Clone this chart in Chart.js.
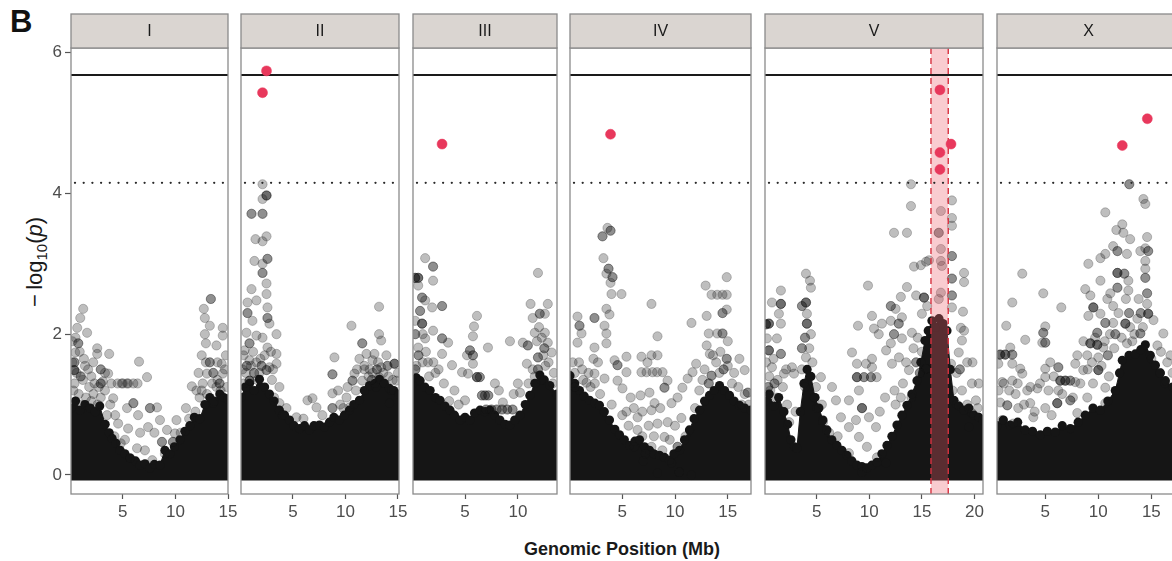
<!DOCTYPE html>
<html>
<head>
<meta charset="utf-8">
<script src="https://cdn.jsdelivr.net/npm/chart.js@4.4.1/dist/chart.umd.min.js"></script>
<style>
  body { margin: 0; background: #fff; width: 1172px; height: 561px; overflow: hidden; position: relative;
         font-family: "Liberation Sans", Arial, Helvetica, sans-serif; }
  canvas { position: absolute; top: 0; }
  #tag { position: absolute; left: 10px; top: 4px; font-size: 31px; font-weight: bold; color: #111; }
  #ytitle { position: absolute; left: 36px; top: 262px; transform: translate(-50%, -50%) rotate(-90deg);
            font-size: 22px; color: #1a1a1a; white-space: nowrap; }
  #ytitle sub { font-size: 15px; }
  #xtitle { position: absolute; left: 622px; top: 549px; transform: translate(-50%, -50%);
            font-size: 18px; font-weight: bold; color: #1a1a1a; white-space: nowrap; }
</style>
</head>
<body>
<div id="tag">B</div>
<div id="ytitle">&minus;&thinsp;log<sub>10</sub>(<i>p</i>)</div>
<div id="xtitle">Genomic Position (Mb)</div>
<script>
// thresholds (-log10 p)
const bonferroni = 5.68;
const eigenThreshold = 4.15;
const xTickValues = [5, 10, 15, 20];
const yTickValues = [0, 2, 4, 6];
const qtlV = [15.86, 17.5];

// significant markers
const peaksI = [];
const peaksII = [[2.48, 5.74], [2.1, 5.43]];
const peaksIII = [[2.83, 4.7]];
const peaksIV = [[3.89, 4.84]];
const peaksV = [[16.71, 5.47], [17.76, 4.7], [16.71, 4.58], [16.71, 4.34]];
const peaksX = [[14.62, 5.06], [12.26, 4.68]];

// upper edge of the saturated marker cloud [Mb, -log10 p]
const denseI = [[0.07, 0.95], [0.5, 1.05], [0.95, 0.92], [1.4, 1.0], [1.9, 0.95], [2.37, 0.9], [2.8, 0.98],
  [3.32, 0.72], [3.7, 0.6], [3.98, 0.52], [4.35, 0.45], [4.74, 0.35], [5.2, 0.3], [5.69, 0.24], [6.2, 0.2],
  [6.64, 0.14], [7.1, 0.16], [7.58, 0.1], [8.0, 0.15], [8.53, 0.14], [9.0, 0.35], [9.48, 0.3], [9.9, 0.4],
  [10.43, 0.5], [10.9, 0.62], [11.37, 0.7], [11.8, 0.82], [12.32, 0.8], [12.8, 1.0], [13.27, 1.1], [13.7, 1.05],
  [14.22, 1.15], [14.6, 1.1], [15.0, 1.08]];
const denseII = [[0.05, 1.1], [0.45, 1.25], [0.86, 1.3], [1.3, 1.2], [1.81, 1.36], [2.3, 1.25], [2.76, 1.15],
  [3.2, 1.05], [3.71, 0.92], [4.2, 0.85], [4.67, 0.78], [5.1, 0.7], [5.62, 0.66], [6.1, 0.7], [6.57, 0.64],
  [7.0, 0.7], [7.52, 0.71], [8.0, 0.68], [8.48, 0.75], [8.9, 0.82], [9.43, 0.78], [9.9, 0.85], [10.38, 0.92],
  [10.8, 1.0], [11.33, 1.06], [11.8, 1.2], [12.29, 1.27], [12.8, 1.3], [13.24, 1.36], [13.7, 1.3], [14.19, 1.23],
  [14.6, 1.2], [15.1, 1.15]];
const denseIII = [[0.08, 1.3], [0.4, 1.38], [0.75, 1.34], [1.2, 1.25], [1.7, 1.2], [2.2, 1.1], [2.64, 1.06],
  [3.1, 0.98], [3.58, 0.92], [4.0, 0.85], [4.53, 0.78], [5.0, 0.82], [5.47, 0.78], [5.9, 0.88], [6.42, 0.92],
  [6.9, 0.9], [7.36, 0.92], [7.8, 0.85], [8.3, 0.78], [8.8, 0.72], [9.25, 0.71], [9.7, 0.78], [10.19, 0.85],
  [10.7, 1.0], [11.13, 1.13], [11.6, 1.3], [12.08, 1.42], [12.5, 1.35], [13.02, 1.27], [13.7, 1.15]];
const denseIV = [[0.05, 1.41], [0.5, 1.3], [0.95, 1.2], [1.4, 1.12], [1.9, 1.06], [2.4, 1.02], [2.84, 0.99],
  [3.3, 0.9], [3.79, 0.78], [4.3, 0.65], [4.74, 0.57], [5.2, 0.5], [5.69, 0.42], [6.2, 0.48], [6.64, 0.5],
  [7.1, 0.4], [7.58, 0.35], [8.0, 0.3], [8.53, 0.28], [9.0, 0.25], [9.48, 0.21], [9.9, 0.3], [10.43, 0.35],
  [10.9, 0.5], [11.37, 0.64], [11.8, 0.8], [12.32, 0.92], [12.8, 1.05], [13.27, 1.13], [13.7, 1.2], [14.22, 1.27],
  [14.7, 1.2], [15.17, 1.13], [15.6, 1.05], [16.11, 0.99], [16.6, 0.95], [17.2, 0.92]];
const denseV = [[0.1, 1.05], [0.5, 1.15], [0.95, 0.98], [1.4, 1.1], [1.9, 0.9], [2.25, 0.72], [2.56, 0.5],
  [2.9, 0.4], [3.13, 0.38], [3.45, 0.9], [3.8, 1.3], [4.1, 1.5], [4.46, 1.4], [4.85, 1.1], [5.22, 0.95],
  [5.6, 0.78], [5.98, 0.64], [6.45, 0.5], [6.93, 0.42], [7.4, 0.35], [7.88, 0.28], [8.35, 0.2], [8.83, 0.14],
  [9.3, 0.12], [9.78, 0.1], [10.25, 0.14], [10.73, 0.18], [11.2, 0.3], [11.68, 0.42], [12.15, 0.55], [12.63, 0.71],
  [13.1, 0.85], [13.58, 0.99], [14.05, 1.15], [14.53, 1.34], [14.9, 1.6], [15.29, 1.91], [15.6, 2.05],
  [15.95, 2.19], [16.3, 2.1], [16.62, 2.22], [17.0, 2.15], [17.38, 2.05], [17.7, 1.5], [18.04, 1.06], [18.5, 0.98],
  [18.99, 0.92], [19.45, 0.95], [19.94, 0.85], [20.4, 0.82], [20.8, 0.78]];
const denseX = [[0.45, 0.7], [1.05, 0.78], [1.7, 0.71], [2.4, 0.75], [3.11, 0.64], [3.8, 0.62], [4.53, 0.57],
  [5.2, 0.62], [5.94, 0.61], [6.6, 0.7], [7.36, 0.66], [8.1, 0.75], [8.77, 0.85], [9.5, 0.95], [10.19, 0.92],
  [10.9, 1.05], [11.6, 1.2], [12.0, 1.45], [12.26, 1.63], [12.9, 1.7], [13.49, 1.72], [14.0, 1.78], [14.43, 1.85],
  [14.9, 1.7], [15.38, 1.56], [15.85, 1.45], [16.32, 1.34], [17.0, 1.25], [17.7, 1.2]];

// individual markers above the cloud (repeats = overlapping markers)
const snpsI = [[1.23, 2.36], [0.95, 2.23], [0.66, 2.09], [0.76, 1.87], [0.76, 1.87], [0.47, 1.74], [0.38, 1.49],
  [0.38, 1.49], [0.38, 1.49], [1.6, 2.02], [2.56, 1.8], [2.56, 1.72], [3.7, 1.72], [2.18, 1.6], [3.6, 1.44],
  [4.5, 1.3], [4.9, 1.3], [5.0, 1.3], [5.4, 1.3], [5.5, 1.3], [6.0, 1.3], [6.4, 1.3], [6.54, 1.61], [7.3, 1.39],
  [4.08, 1.09], [5.4, 0.95], [6.0, 1.02], [6.0, 1.02], [6.45, 0.85], [7.58, 0.95], [7.58, 0.95], [8.25, 0.96],
  [4.27, 0.85], [4.55, 0.73], [5.5, 0.66], [6.64, 0.6], [7.4, 0.68], [8.53, 0.78], [9.2, 0.64], [9.95, 0.59],
  [9.76, 0.47], [9.76, 0.47], [8.72, 0.47], [8.72, 0.47], [10.1, 0.78], [11.3, 0.8], [11.56, 1.26], [6.35, 0.38],
  [7.1, 0.35], [5.7, 0.24], [7.8, 0.21], [13.37, 2.5], [13.37, 2.5], [12.7, 2.36], [12.8, 2.23], [13.27, 2.12],
  [14.5, 2.09], [12.8, 2.0], [14.5, 1.98], [13.9, 1.84], [12.9, 1.87], [12.5, 1.7], [13.27, 1.6], [13.27, 1.6],
  [14.4, 1.58], [14.5, 1.44], [13.0, 1.44], [12.6, 1.3], [13.9, 1.25], [14.9, 1.25], [12.3, 1.1], [13.6, 1.02],
  [0.3, 1.2], [0.6, 1.45], [1.2, 1.35], [1.8, 1.25], [2.2, 1.15], [2.9, 1.5], [2.9, 1.5], [3.3, 1.2], [1.0, 1.0],
  [2.6, 1.0], [3.1, 1.33], [0.2, 1.6], [1.4, 1.55], [2.0, 1.4], [3.8, 1.0], [3.5, 0.85], [4.2, 0.55], [4.8, 0.45],
  [5.2, 0.5], [8.0, 0.6], [9.0, 0.3], [10.5, 0.6], [11.0, 0.95], [12.0, 1.2], [11.9, 0.9], [14.0, 1.35], [14.7, 1.5],
  [0.2, 1.9], [0.5, 1.95], [0.9, 1.75], [1.3, 1.65], [1.7, 1.5], [2.3, 1.3], [2.7, 1.25], [0.4, 1.3], [0.8, 1.15],
  [1.5, 1.1], [2.0, 1.05], [2.9, 1.1], [3.3, 1.45], [3.9, 1.3], [0.4, 1.6], [0.4, 1.6], [1.0, 1.4], [1.0, 1.4],
  [2.9, 1.3], [2.9, 1.3], [12.2, 1.45], [12.5, 1.2], [13.0, 1.15], [13.5, 1.3], [14.0, 1.6], [14.3, 1.2],
  [14.8, 1.7], [12.9, 1.6], [13.6, 1.45], [13.6, 1.45], [14.2, 1.3], [14.2, 1.3]];
const snpsII = [[2.1, 4.13], [2.48, 3.97], [2.48, 3.97], [2.48, 3.97], [2.1, 3.92], [1.05, 3.71], [1.05, 3.71],
  [2.1, 3.71], [2.1, 3.71], [1.43, 3.35], [2.48, 3.39], [2.1, 3.32], [1.33, 3.04], [2.57, 3.07], [2.57, 3.07],
  [2.1, 3.0], [2.1, 2.87], [2.1, 2.87], [2.48, 2.72], [2.48, 2.57], [1.05, 2.64], [1.52, 2.48], [0.67, 2.45],
  [2.57, 2.38], [0.67, 2.3], [0.67, 2.3], [1.14, 2.19], [2.57, 2.23], [2.57, 2.23], [2.76, 2.15], [0.57, 2.02],
  [1.52, 1.98], [3.43, 2.0], [2.1, 1.95], [0.86, 1.87], [0.86, 1.87], [2.57, 1.81], [0.38, 1.77], [3.43, 1.72],
  [0.86, 1.63], [2.76, 1.53], [3.43, 1.58], [0.86, 1.34], [0.86, 1.34], [0.86, 1.34], [2.48, 1.49], [2.48, 1.49],
  [3.71, 1.25], [3.71, 1.02], [4.38, 0.95], [13.2, 2.39], [10.57, 2.12], [13.2, 2.0], [13.4, 1.91], [11.6, 1.87],
  [11.6, 1.87], [12.76, 1.72], [12.0, 1.72], [13.9, 1.7], [14.67, 1.58], [14.67, 1.58], [14.67, 1.58], [8.95, 1.67],
  [12.57, 1.63], [11.33, 1.65], [8.76, 1.43], [8.76, 1.43], [10.86, 1.44], [10.67, 1.34], [10.67, 1.34], [11.6, 1.34],
  [13.4, 1.53], [13.2, 1.39], [14.86, 1.34], [8.76, 1.16], [8.76, 0.95], [8.76, 0.95], [6.38, 1.06], [6.86, 1.09],
  [7.24, 0.96], [10.1, 1.1], [10.38, 0.96], [14.2, 1.02], [5.33, 0.82], [0.2, 1.5], [1.5, 1.6], [3.0, 1.35],
  [3.2, 1.1], [1.8, 1.45], [0.3, 1.3], [4.0, 0.85], [12.3, 1.5], [13.7, 1.3], [11.0, 1.2], [9.5, 1.0], [7.8, 0.85],
  [6.0, 0.8], [14.4, 1.2], [12.9, 1.25], [0.3, 1.7], [0.5, 1.45], [1.0, 1.55], [1.2, 1.75], [1.6, 1.35], [1.9, 1.65],
  [2.3, 1.7], [2.9, 1.75], [3.1, 1.5], [0.6, 1.55], [0.6, 1.55], [1.3, 1.45], [1.3, 1.45], [2.0, 1.55], [2.0, 1.55],
  [9.3, 1.2], [9.8, 0.95], [10.2, 1.25], [11.1, 1.5], [11.8, 1.55], [12.2, 1.4], [12.6, 1.45], [13.1, 1.6],
  [13.6, 1.45], [14.1, 1.4], [14.5, 1.35], [15.0, 1.45], [11.8, 1.5], [12.5, 1.35], [12.5, 1.35], [13.0, 1.5],
  [13.0, 1.5], [14.0, 1.55], [14.0, 1.55]];
const snpsIII = [[1.23, 3.08], [1.98, 2.96], [1.98, 2.96], [1.98, 2.76], [0.57, 2.8], [0.57, 2.8], [0.57, 2.8],
  [0.28, 2.8], [0.28, 2.8], [0.28, 2.8], [0.57, 2.69], [0.94, 2.52], [0.94, 2.52], [1.23, 2.48], [1.89, 2.38],
  [2.83, 2.4], [2.83, 2.4], [0.75, 2.33], [0.75, 2.33], [0.94, 2.15], [0.94, 2.15], [0.94, 2.15], [0.28, 2.19],
  [1.98, 2.05], [2.83, 1.94], [2.83, 1.94], [3.4, 1.88], [1.23, 1.94], [0.57, 1.81], [2.83, 1.72], [3.77, 1.56],
  [4.72, 1.46], [6.13, 2.26], [5.85, 2.11], [5.75, 1.97], [5.47, 1.77], [5.47, 1.77], [5.75, 1.7], [5.75, 1.7],
  [5.19, 1.7], [5.75, 1.58], [6.13, 1.39], [6.13, 1.39], [6.13, 1.39], [6.4, 1.39], [6.4, 1.39], [5.28, 1.44],
  [7.17, 1.81], [9.25, 1.9], [6.89, 1.13], [6.89, 1.13], [6.6, 1.13], [6.6, 1.13], [7.2, 1.13], [7.2, 1.13],
  [5.0, 1.06], [7.83, 1.3], [8.2, 1.2], [8.58, 1.03], [10.2, 1.17], [10.85, 1.58], [10.94, 1.84], [10.94, 1.84],
  [11.2, 2.43], [11.9, 2.87], [11.4, 2.23], [12.07, 2.29], [12.07, 2.29], [12.83, 2.43], [12.55, 2.29], [11.6, 2.02],
  [12.55, 2.02], [12.26, 1.95], [12.83, 1.88], [10.47, 1.88], [13.2, 1.74], [11.9, 1.67], [11.9, 1.67], [7.0, 0.93],
  [7.0, 0.93], [7.5, 0.93], [7.5, 0.93], [8.0, 0.93], [8.0, 0.93], [8.5, 0.93], [8.5, 0.93], [9.0, 0.93], [9.0, 0.93],
  [9.5, 0.93], [9.5, 0.93], [1.5, 1.6], [2.2, 1.45], [3.0, 1.3], [4.0, 1.2], [4.4, 1.0], [0.4, 1.55], [11.6, 1.4],
  [12.6, 1.55], [13.4, 1.45], [10.0, 1.3], [9.6, 1.15], [3.5, 1.05], [12.2, 1.35], [0.3, 1.5], [0.3, 1.5],
  [0.6, 1.7], [0.6, 1.7], [1.0, 1.6], [1.3, 1.75], [1.6, 1.4], [2.0, 1.6], [2.5, 1.5], [0.3, 2.0], [0.3, 2.0],
  [1.0, 2.0], [11.0, 1.3], [11.4, 1.5], [11.8, 1.9], [12.0, 2.1], [12.4, 1.7], [12.9, 1.6], [13.3, 1.3],
  [11.9, 1.5], [11.9, 1.5], [12.5, 1.8], [12.5, 1.8]];
const snpsIV = [[3.6, 3.51], [3.89, 3.47], [3.89, 3.47], [3.13, 3.39], [3.13, 3.39], [3.22, 3.08], [3.7, 2.93],
  [3.7, 2.93], [3.5, 2.86], [4.08, 2.81], [4.08, 2.81], [3.89, 2.73], [4.93, 2.57], [3.98, 2.57], [3.5, 2.36],
  [3.79, 2.28], [0.76, 2.25], [2.37, 2.23], [2.37, 2.23], [0.95, 2.12], [0.95, 2.12], [3.32, 2.12], [1.14, 2.01],
  [3.5, 2.01], [7.77, 2.43], [8.34, 1.97], [2.37, 1.81], [3.5, 1.87], [0.76, 1.88], [2.27, 1.65], [4.27, 1.63],
  [5.4, 1.68], [6.82, 1.68], [7.77, 1.7], [8.34, 1.7], [7.39, 1.6], [6.82, 1.46], [7.3, 1.46], [7.87, 1.46],
  [8.3, 1.46], [8.82, 1.46], [4.55, 1.56], [4.55, 1.56], [5.4, 1.46], [2.37, 1.44], [1.61, 1.31], [3.32, 1.37],
  [4.55, 1.34], [5.02, 1.23], [7.58, 1.17], [9.29, 1.34], [9.0, 1.24], [9.0, 1.24], [6.73, 1.13], [8.06, 1.02],
  [7.77, 0.92], [11.56, 2.16], [12.9, 2.69], [14.9, 2.81], [13.46, 2.56], [14.0, 2.56], [14.5, 2.56], [14.9, 2.56],
  [13.0, 2.26], [14.9, 2.35], [14.5, 2.3], [14.5, 2.3], [13.2, 2.01], [14.5, 2.01], [14.5, 2.01], [14.0, 2.01],
  [13.0, 1.84], [13.3, 1.72], [14.9, 1.65], [14.9, 1.65], [16.1, 1.65], [16.6, 1.49], [12.0, 1.58], [11.66, 1.46],
  [13.46, 1.41], [13.46, 1.41], [11.2, 1.37], [10.7, 1.24], [10.24, 1.1], [9.67, 1.02], [16.9, 1.17], [16.9, 1.17],
  [10.6, 0.81], [10.24, 0.4], [10.24, 0.4], [6.45, 0.82], [6.45, 0.64], [8.34, 0.73], [9.0, 0.54], [6.16, 0.4],
  [7.77, 0.4], [9.67, 0.17], [10.4, 0.04], [10.4, 0.04], [8.34, 0.03], [11.56, 0.0], [0.3, 1.6], [1.2, 1.5],
  [2.0, 1.25], [2.9, 1.15], [4.0, 1.0], [5.0, 0.85], [5.6, 0.7], [6.9, 0.55], [7.2, 0.3], [8.8, 0.35], [9.3, 0.75],
  [11.0, 0.55], [11.9, 0.95], [12.6, 1.35], [14.2, 1.45], [15.4, 1.3], [16.3, 1.0], [13.9, 1.6], [15.0, 1.9],
  [0.2, 1.3], [0.5, 1.45], [0.9, 1.6], [1.3, 1.35], [1.8, 1.45], [2.4, 1.3], [2.7, 1.6], [0.5, 1.25], [0.5, 1.25],
  [5.8, 1.1], [6.1, 0.95], [6.9, 0.9], [7.5, 0.7], [8.0, 0.55], [8.6, 0.95], [9.5, 0.5], [5.4, 0.9], [7.0, 0.2],
  [10.0, 0.7], [12.3, 1.2], [12.8, 1.5], [13.6, 1.7], [14.3, 1.75], [15.0, 1.55], [15.6, 1.45], [16.0, 1.25],
  [16.6, 1.15], [17.0, 1.0], [13.2, 1.3], [13.2, 1.3], [14.6, 1.5], [14.6, 1.5]];
const snpsV = [[13.96, 4.13], [13.96, 3.82], [12.35, 3.44], [13.58, 3.44], [17.85, 3.9], [17.85, 3.65], [17.85, 3.54],
  [16.8, 3.75], [16.6, 3.44], [16.6, 3.44], [16.8, 3.21], [16.8, 3.04], [16.9, 2.97], [17.85, 3.11], [17.85, 3.11],
  [14.25, 2.96], [14.9, 2.98], [15.4, 3.03], [15.67, 3.05], [19.0, 2.87], [19.0, 2.74], [17.85, 2.79], [17.85, 2.79],
  [17.85, 2.55], [17.85, 2.55], [17.85, 2.38], [16.8, 2.59], [16.6, 2.5], [15.2, 2.52], [15.2, 2.52], [15.2, 2.52],
  [14.45, 2.55], [13.58, 2.67], [13.0, 2.53], [12.05, 2.4], [12.05, 2.4], [12.5, 2.36], [15.0, 2.29], [18.9, 2.32],
  [12.05, 2.19], [13.1, 2.24], [12.8, 2.15], [12.8, 2.15], [14.05, 2.02], [12.35, 2.0], [12.35, 2.0], [13.1, 1.94],
  [12.05, 1.87], [11.2, 2.15], [10.26, 2.26], [10.45, 2.08], [10.9, 2.0], [9.88, 2.69], [8.93, 2.12], [8.36, 1.74],
  [8.83, 1.58], [9.69, 1.58], [10.26, 1.65], [10.26, 1.53], [8.83, 1.39], [8.83, 1.39], [8.83, 1.39], [9.5, 1.39],
  [9.5, 1.39], [10.16, 1.39], [10.16, 1.39], [10.7, 1.39], [11.6, 1.77], [12.16, 1.58], [12.82, 1.67], [14.45, 1.6],
  [14.45, 1.6], [13.77, 1.49], [15.4, 1.51], [15.4, 1.51], [15.4, 1.51], [18.5, 1.74], [17.76, 1.58], [18.8, 1.91],
  [19.0, 2.05], [18.7, 2.09], [3.99, 2.86], [4.37, 2.76], [4.46, 2.66], [3.99, 2.45], [3.99, 2.45], [3.99, 2.45],
  [3.61, 2.4], [3.61, 2.4], [4.08, 2.29], [4.08, 2.15], [4.08, 2.15], [4.08, 2.15], [4.46, 2.0], [3.61, 1.8],
  [3.61, 1.8], [3.99, 1.67], [1.61, 2.62], [0.76, 2.45], [1.61, 2.43], [1.61, 2.43], [1.61, 2.43], [1.42, 2.29],
  [0.47, 2.15], [0.47, 2.15], [0.47, 2.15], [0.19, 2.14], [0.19, 2.14], [0.19, 2.14], [1.61, 2.15], [0.28, 1.94],
  [1.23, 1.94], [0.47, 1.77], [0.47, 1.77], [0.47, 1.77], [1.61, 1.72], [1.61, 1.72], [0.76, 1.53], [2.66, 1.53],
  [2.85, 1.44], [1.9, 1.44], [5.41, 1.39], [4.94, 1.25], [6.46, 1.25], [6.84, 1.06], [8.07, 1.06], [9.02, 1.2],
  [9.31, 0.95], [9.31, 0.95], [9.31, 0.95], [9.97, 0.82], [8.74, 0.78], [7.31, 0.82], [8.07, 0.68], [10.64, 0.68],
  [9.02, 0.54], [9.78, 0.4], [10.73, 0.25], [11.59, 0.17], [9.31, 0.04], [8.07, 0.31], [19.75, 1.3], [20.13, 1.06],
  [19.75, 0.88], [19.47, 0.68], [0.6, 1.2], [1.2, 1.1], [2.2, 1.0], [2.4, 0.75], [3.0, 0.9], [4.6, 1.6], [5.0, 0.95],
  [5.6, 0.75], [6.2, 0.6], [7.0, 0.55], [11.0, 0.9], [11.5, 1.1], [12.4, 1.2], [13.2, 1.3], [14.0, 1.1], [17.9, 1.2],
  [18.3, 1.45], [19.3, 1.6], [20.4, 1.3], [0.2, 1.6], [0.5, 1.4], [0.9, 1.65], [1.3, 1.35], [1.8, 1.25], [2.1, 1.5],
  [0.4, 1.25], [0.4, 1.25], [1.0, 1.3], [1.0, 1.3], [3.6, 1.5], [3.9, 1.25], [4.3, 1.8], [4.8, 1.1], [5.5, 1.0],
  [3.9, 1.95], [3.9, 1.95], [12.5, 1.0], [13.0, 1.1], [13.5, 1.6], [14.2, 1.8], [14.6, 1.95], [15.0, 1.75],
  [15.5, 2.4], [14.8, 1.45], [14.8, 1.45], [18.3, 1.0], [18.8, 1.2], [19.3, 1.0], [19.8, 1.6], [20.3, 0.95],
  [18.6, 1.5], [18.6, 1.5]];
const snpsX = [[12.92, 4.13], [12.92, 4.13], [14.25, 3.92], [14.43, 3.85], [10.66, 3.73], [12.26, 3.56], [11.7, 3.48],
  [12.36, 3.44], [13.0, 3.35], [11.4, 3.25], [11.8, 3.18], [11.8, 3.18], [14.43, 3.22], [14.6, 3.38], [14.7, 3.18],
  [14.7, 3.18], [13.96, 3.18], [12.7, 3.14], [10.66, 3.14], [10.2, 3.08], [9.06, 3.0], [14.43, 3.04], [14.43, 2.93],
  [14.43, 2.8], [14.43, 2.8], [11.8, 2.87], [11.8, 2.87], [11.8, 2.87], [12.45, 2.86], [12.45, 2.86], [10.2, 2.76],
  [11.8, 2.66], [11.8, 2.66], [12.83, 2.76], [12.83, 2.62], [11.13, 2.58], [8.77, 2.64], [9.25, 2.55], [10.85, 2.5],
  [14.6, 2.58], [14.6, 2.58], [14.6, 2.43], [14.7, 2.29], [14.7, 2.29], [14.7, 2.29], [9.53, 2.38], [9.53, 2.38],
  [9.53, 2.38], [10.2, 2.29], [9.06, 2.26], [10.66, 2.16], [10.66, 2.16], [11.4, 2.16], [12.55, 2.15], [12.55, 2.15],
  [12.55, 2.15], [13.68, 2.22], [13.96, 2.01], [13.96, 2.01], [9.9, 2.02], [9.9, 2.02], [9.25, 1.87], [9.25, 1.87],
  [9.25, 1.87], [9.9, 1.85], [9.9, 1.85], [9.9, 1.85], [10.47, 1.81], [12.7, 1.87], [16.13, 2.01], [15.57, 1.84],
  [10.0, 1.67], [10.0, 1.49], [10.0, 1.49], [10.0, 1.49], [8.96, 1.7], [8.58, 1.49], [8.02, 1.7], [7.83, 1.58],
  [2.83, 2.86], [1.89, 2.45], [4.81, 2.58], [6.51, 2.38], [1.32, 2.12], [3.11, 1.92], [5.0, 2.11], [4.81, 2.02],
  [4.81, 2.02], [5.0, 1.88], [5.0, 1.88], [4.72, 1.88], [1.7, 1.81], [0.75, 1.71], [0.75, 1.71], [0.75, 1.71],
  [1.23, 1.71], [1.23, 1.71], [1.23, 1.71], [1.89, 1.71], [1.89, 1.71], [0.57, 1.58], [1.89, 1.58], [2.64, 1.51],
  [2.83, 1.44], [0.94, 1.32], [1.89, 1.34], [5.47, 1.6], [5.0, 1.51], [6.23, 1.53], [6.23, 1.53], [5.0, 1.39],
  [6.42, 1.34], [6.42, 1.34], [6.42, 1.34], [6.89, 1.34], [6.89, 1.34], [6.89, 1.34], [7.36, 1.34], [7.36, 1.34],
  [3.3, 1.2], [4.25, 1.23], [6.23, 1.2], [7.83, 1.32], [0.75, 1.03], [1.42, 0.99], [1.42, 0.99], [2.45, 0.95],
  [3.58, 1.02], [5.0, 0.95], [6.13, 1.02], [6.13, 1.02], [6.13, 1.02], [7.36, 1.06], [7.36, 1.06], [8.96, 1.1],
  [0.94, 0.78], [1.98, 0.73], [3.87, 0.82], [8.02, 0.88], [10.66, 1.24], [10.66, 1.02], [16.5, 1.6], [17.0, 1.45],
  [15.9, 1.75], [13.2, 1.9], [11.5, 1.8], [2.2, 1.15], [4.0, 0.9], [5.6, 0.85], [9.5, 1.3], [11.0, 1.4],
  [0.6, 1.2], [1.1, 1.3], [1.6, 1.2], [2.4, 1.3], [3.0, 1.0], [3.6, 1.25], [4.5, 1.3], [5.3, 1.2], [5.8, 1.4],
  [6.6, 1.15], [7.6, 1.1], [8.3, 1.3], [8.6, 1.9], [9.0, 1.5], [9.4, 1.6], [9.7, 1.95], [10.3, 1.55], [10.6, 1.9],
  [11.1, 2.0], [11.4, 2.4], [11.9, 2.3], [12.2, 1.95], [12.6, 2.5], [13.0, 2.1], [13.4, 2.0], [13.8, 2.5],
  [14.2, 2.1], [15.0, 1.65], [15.2, 2.2], [15.8, 1.45], [16.3, 1.3], [16.8, 1.7], [11.6, 2.0], [11.6, 2.0],
  [12.9, 2.3], [12.9, 2.3], [14.0, 2.3], [14.0, 2.3], [10.9, 1.7], [10.9, 1.7]];

const FONT = '"Liberation Sans", Arial, Helvetica, sans-serif';
const PANEL_TOP = 48, PANEL_BOTTOM = 494, STRIP_TOP = 14, H = 561, PAD = 14;

const panels = [
  { name: 'I', left: 71, right: 228, min: 0.07, max: 15.0, snps: snpsI, dense: denseI, peaks: peaksI },
  { name: 'II', left: 241, right: 399, min: 0.05, max: 15.1, snps: snpsII, dense: denseII, peaks: peaksII },
  { name: 'III', left: 413, right: 557, min: 0.08, max: 13.7, snps: snpsIII, dense: denseIII, peaks: peaksIII },
  { name: 'IV', left: 570, right: 751, min: 0.05, max: 17.2, snps: snpsIV, dense: denseIV, peaks: peaksIV },
  { name: 'V', left: 765, right: 983, min: 0.1, max: 20.8, snps: snpsV, dense: denseV, peaks: peaksV, band: qtlV },
  { name: 'X', left: 997, right: 1180, min: 0.45, max: 17.7, snps: snpsX, dense: denseX, peaks: peaksX }
];

const pts = arr => arr.map(([x, y]) => ({ x, y }));

const facetPlugin = {
  id: 'facet',
  afterDatasetDraw(chart, args, opts) {
    if (args.index !== 1) return;
    const { ctx, chartArea: a, scales: { x, y } } = chart;
    ctx.save();
    if (opts.band) {
      const x0 = x.getPixelForValue(opts.band[0]), x1 = x.getPixelForValue(opts.band[1]);
      ctx.fillStyle = 'rgba(236, 95, 110, 0.32)';
      ctx.fillRect(x0, a.top, x1 - x0, a.bottom - a.top);
      ctx.strokeStyle = '#d8313f';
      ctx.lineWidth = 1.4;
      ctx.setLineDash([6, 4]);
      [x0, x1].forEach(px => {
        ctx.beginPath(); ctx.moveTo(px, a.top); ctx.lineTo(px, a.bottom); ctx.stroke();
      });
    }
    // significance thresholds
    let py = y.getPixelForValue(bonferroni);
    ctx.setLineDash([]);
    ctx.strokeStyle = '#1a1a1a';
    ctx.lineWidth = 2;
    ctx.beginPath(); ctx.moveTo(a.left, py); ctx.lineTo(a.right, py); ctx.stroke();
    py = y.getPixelForValue(eigenThreshold);
    ctx.strokeStyle = '#2a2a2a';
    ctx.lineWidth = 2.3;
    ctx.lineCap = 'round';
    ctx.setLineDash([0, 8.7]);
    ctx.beginPath(); ctx.moveTo(a.left + 4, py); ctx.lineTo(a.right, py); ctx.stroke();
    ctx.restore();
  },
  afterDraw(chart, args, opts) {
    const { ctx, chartArea: a } = chart;
    ctx.save();
    ctx.strokeStyle = '#8a8a8a';
    ctx.lineWidth = 1.3;
    ctx.strokeRect(a.left, a.top, a.right - a.left, a.bottom - a.top);
    ctx.fillStyle = '#dad5d1';
    ctx.fillRect(a.left, STRIP_TOP, a.right - a.left, a.top - STRIP_TOP);
    ctx.strokeRect(a.left, STRIP_TOP, a.right - a.left, a.top - STRIP_TOP);
    ctx.fillStyle = '#1a1a1a';
    ctx.font = '16px ' + FONT;
    ctx.textAlign = 'center';
    ctx.textBaseline = 'middle';
    ctx.fillText(opts.label, (a.left + a.right) / 2, (STRIP_TOP + a.top) / 2 + 1);
    ctx.restore();
  }
};

panels.forEach((p, i) => {
  const first = i === 0;
  const canvas = document.createElement('canvas');
  const cLeft = first ? 0 : p.left - PAD;
  const width = (p.right - cLeft) + PAD;
  canvas.width = width;
  canvas.height = H;
  canvas.style.left = cLeft + 'px';
  canvas.style.width = width + 'px';
  canvas.style.height = H + 'px';
  document.body.appendChild(canvas);

  new Chart(canvas.getContext('2d'), {
    type: 'scatter',
    data: {
      datasets: [
        {
          label: 'significant',
          data: pts(p.peaks),
          pointRadius: 5,
          backgroundColor: '#e8385c',
          borderColor: '#e8385c',
          borderWidth: 0.5
        },
        {
          label: 'markers',
          data: pts(p.snps),
          pointRadius: 4.6,
          backgroundColor: 'rgba(20, 20, 20, 0.28)',
          borderColor: 'rgba(20, 20, 20, 0.3)',
          borderWidth: 0.8
        },
        {
          label: 'cloud',
          type: 'line',
          data: pts(p.dense),
          showLine: true,
          fill: { value: -0.08 },
          borderColor: '#151515',
          backgroundColor: '#151515',
          borderWidth: 1,
          pointRadius: 4.6,
          pointBackgroundColor: '#151515',
          pointBorderWidth: 0,
          tension: 0
        }
      ]
    },
    options: {
      responsive: false,
      animation: false,
      devicePixelRatio: 1,
      events: [],
      layout: { padding: { left: first ? 0 : PAD, right: PAD, top: PANEL_TOP, bottom: 0 } },
      plugins: {
        legend: { display: false },
        tooltip: { enabled: false },
        facet: { label: p.name, band: p.band || null }
      },
      scales: {
        x: {
          type: 'linear',
          min: p.min,
          max: p.max,
          afterFit: s => { s.height = H - PANEL_BOTTOM; s.paddingLeft = 0; s.paddingRight = 0; },
          afterBuildTicks: s => {
            s.ticks = xTickValues.filter(v => v >= s.min && v <= s.max).map(v => ({ value: v }));
          },
          grid: { display: true, drawOnChartArea: false, drawTicks: true, tickLength: 5, tickColor: '#555', tickWidth: 1.2 },
          border: { display: false },
          ticks: { autoSkip: false, maxRotation: 0, padding: 3, color: '#4d4d4d', font: { size: 17, family: FONT } }
        },
        y: {
          type: 'linear',
          display: first,
          min: -0.27,
          max: 6.065,
          afterFit: s => { s.width = first ? p.left : 0; s.paddingTop = 0; s.paddingBottom = 0; },
          afterBuildTicks: s => { s.ticks = yTickValues.map(v => ({ value: v })); },
          grid: { display: true, drawOnChartArea: false, drawTicks: true, tickLength: 6, tickColor: '#555', tickWidth: 1.2 },
          border: { display: false },
          ticks: { padding: 3, color: '#4d4d4d', font: { size: 17, family: FONT } }
        }
      }
    },
    plugins: [facetPlugin]
  });
});
</script>
</body>
</html>
